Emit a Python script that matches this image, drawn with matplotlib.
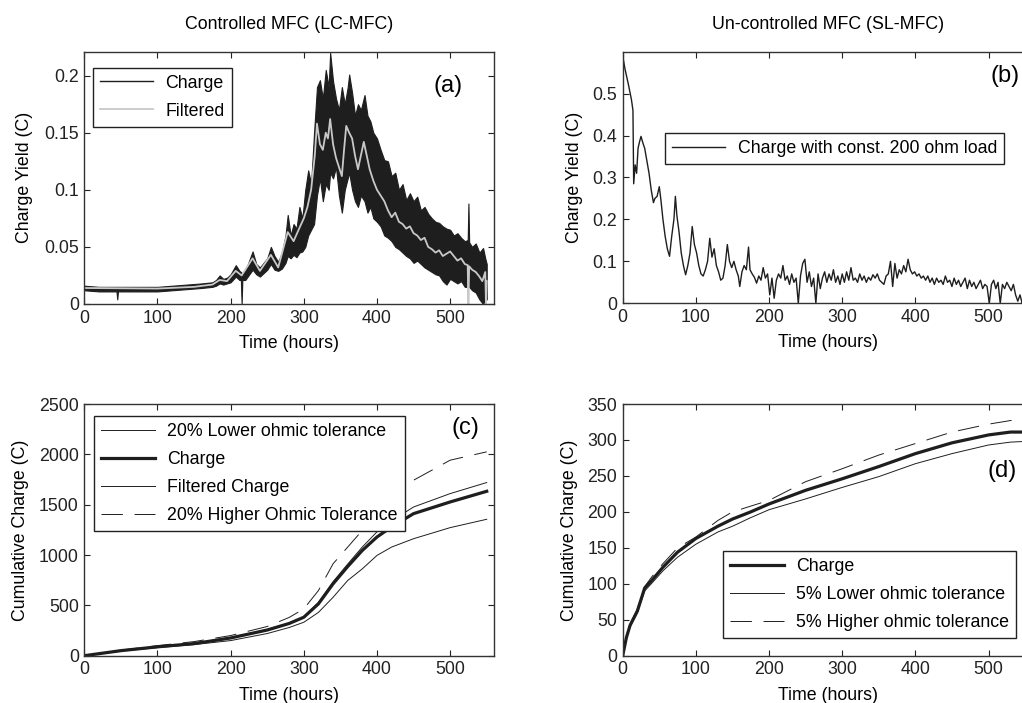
import matplotlib
matplotlib.use("Agg")
import matplotlib.pyplot as plt
from matplotlib.lines import Line2D
from matplotlib.ticker import FuncFormatter

plt.rcParams['font.family'] = ['Liberation Sans', 'DejaVu Sans']
plt.rcParams['font.size'] = 12.8

# (a) controlled MFC: raw charge band (upper / lower edge) and filtered trace
a_t = [0, 20, 44, 45, 46, 70, 100, 120, 140, 160, 175, 180, 185, 190, 195, 200,
       207, 212, 214, 215, 216, 220, 230, 235, 240, 245, 250, 255, 260, 265, 270,
       275, 278, 282, 286, 290, 294, 298, 302, 306, 310, 314, 318, 322, 326, 330,
       334, 336, 340, 344, 348, 352, 356, 360, 362, 366, 370, 374, 378, 383, 387,
       391, 395, 400, 405, 410, 415, 420, 425, 430, 435, 440, 445, 450, 455, 460,
       465, 470, 475, 480, 485, 490, 495, 500, 505, 510, 515, 520, 524, 525, 526,
       530, 535, 540, 545, 548, 550]
a_hi = [0.016, 0.015, 0.015, 0.015, 0.015, 0.015, 0.015, 0.016, 0.017, 0.018, 0.019,
        0.021, 0.025, 0.022, 0.023, 0.026, 0.034, 0.029, 0.028, 0.027, 0.027, 0.029,
        0.046, 0.035, 0.032, 0.036, 0.040, 0.050, 0.042, 0.037, 0.045, 0.060, 0.078,
        0.060, 0.070, 0.066, 0.085, 0.075, 0.100, 0.117, 0.105, 0.150, 0.190, 0.196,
        0.180, 0.205, 0.190, 0.220, 0.195, 0.180, 0.170, 0.190, 0.175, 0.190, 0.201,
        0.185, 0.165, 0.175, 0.170, 0.183, 0.165, 0.160, 0.150, 0.145, 0.135, 0.126,
        0.125, 0.112, 0.115, 0.100, 0.105, 0.091, 0.097, 0.090, 0.094, 0.082, 0.085,
        0.079, 0.075, 0.072, 0.071, 0.068, 0.066, 0.065, 0.060, 0.062, 0.058, 0.055,
        0.056, 0.088, 0.054, 0.050, 0.053, 0.045, 0.049, 0.040, 0.035]
a_lo = [0.012, 0.011, 0.011, 0.004, 0.011, 0.011, 0.011, 0.012, 0.013, 0.014, 0.015,
        0.016, 0.018, 0.017, 0.018, 0.019, 0.024, 0.021, 0.021, 0.000, 0.021, 0.021,
        0.030, 0.026, 0.024, 0.027, 0.030, 0.035, 0.030, 0.029, 0.031, 0.036, 0.042,
        0.040, 0.043, 0.041, 0.045, 0.046, 0.050, 0.060, 0.065, 0.070, 0.095, 0.110,
        0.090, 0.105, 0.100, 0.115, 0.110, 0.120, 0.095, 0.080, 0.100, 0.110, 0.115,
        0.100, 0.090, 0.085, 0.095, 0.090, 0.080, 0.085, 0.075, 0.072, 0.068, 0.060,
        0.058, 0.055, 0.050, 0.048, 0.045, 0.042, 0.040, 0.036, 0.038, 0.035, 0.032,
        0.030, 0.028, 0.026, 0.025, 0.020, 0.017, 0.022, 0.020, 0.018, 0.020, 0.015,
        0.015, 0.015, 0.015, 0.012, 0.010, 0.004, 0.000, 0.004, 0.004]
af_t = [0, 100, 150, 175, 185, 195, 207, 215, 230, 240, 255, 265, 278, 286, 295,
        300, 305, 310, 315, 318, 322, 326, 330, 333, 336, 340, 344, 348, 352, 355,
        358, 362, 366, 370, 374, 378, 382, 386, 390, 395, 400, 405, 410, 415, 420,
        425, 430, 435, 440, 445, 450, 455, 460, 465, 470, 475, 480, 485, 490, 495,
        500, 505, 510, 515, 520, 524, 525, 526, 530, 535, 540, 544, 548, 549, 550]
af_val = [0.014, 0.0135, 0.015, 0.017, 0.021, 0.020, 0.029, 0.025, 0.040, 0.029,
          0.043, 0.032, 0.063, 0.055, 0.068,
          0.075, 0.085, 0.100, 0.130, 0.158, 0.140, 0.135, 0.150, 0.145, 0.162,
          0.140, 0.128, 0.120, 0.112, 0.135, 0.156, 0.150, 0.145, 0.130, 0.118,
          0.130, 0.142, 0.130, 0.118, 0.108, 0.100, 0.095, 0.090, 0.082, 0.076,
          0.080, 0.072, 0.070, 0.066, 0.068, 0.062, 0.060, 0.056, 0.058, 0.050,
          0.048, 0.045, 0.047, 0.042, 0.044, 0.046, 0.042, 0.038, 0.040, 0.035,
          0.034, 0.000, 0.033, 0.030, 0.028, 0.024, 0.020, 0.028, 0.000, 0.020]

# (b) un-controlled MFC, constant 200 ohm load
b_t1 = [0, 3, 8, 12, 14, 15, 17, 19, 21, 23, 25, 28, 30, 33, 36, 39, 42, 44, 47, 50,
        52, 55, 58, 61, 64, 67, 70, 72, 74, 77, 80, 83, 86, 89, 92, 95, 98, 101, 104,
        107, 110, 113, 116, 119, 122, 125, 128, 131, 134, 137, 140, 143, 146, 149,
        152, 155, 158, 160, 163, 166, 169, 172, 174, 177]
b_v1 = [0.590, 0.560, 0.520, 0.485, 0.460, 0.285, 0.330, 0.310, 0.370, 0.385,
        0.398, 0.380, 0.370, 0.340, 0.310, 0.270, 0.240, 0.250, 0.255, 0.278,
        0.250, 0.200, 0.160, 0.130, 0.112, 0.160, 0.200, 0.255, 0.210, 0.170,
        0.120, 0.090, 0.068, 0.090, 0.120, 0.183, 0.140, 0.120, 0.090, 0.070,
        0.065, 0.080, 0.100, 0.155, 0.110, 0.130, 0.090, 0.075, 0.055, 0.060,
        0.090, 0.140, 0.100, 0.085, 0.100, 0.080, 0.065, 0.040, 0.075, 0.090,
        0.080, 0.134, 0.080, 0.070]
b_t2 = list(range(180, 550, 3))
b_v2 = [0.062, 0.048, 0.065, 0.055, 0.085, 0.060, 0.070, 0.020, 0.060, 0.012,
        0.055, 0.070, 0.060, 0.090, 0.055, 0.065, 0.045, 0.070, 0.050, 0.060,
        0.000, 0.065, 0.095, 0.105, 0.050, 0.075, 0.040, 0.060, 0.000, 0.070,
        0.035, 0.060, 0.075, 0.050, 0.070, 0.055, 0.080, 0.050, 0.065, 0.045,
        0.070, 0.050, 0.075, 0.055, 0.085, 0.055, 0.060, 0.050, 0.070, 0.055,
        0.065, 0.050, 0.062, 0.055, 0.068, 0.060, 0.070, 0.055, 0.050, 0.045,
        0.065, 0.070, 0.100, 0.040, 0.095, 0.060, 0.080, 0.070, 0.090, 0.075,
        0.105, 0.080, 0.070, 0.075, 0.065, 0.070, 0.060, 0.065, 0.055, 0.065,
        0.050, 0.060, 0.045, 0.060, 0.050, 0.055, 0.045, 0.065, 0.050, 0.055,
        0.040, 0.060, 0.045, 0.055, 0.040, 0.050, 0.060, 0.035, 0.055, 0.040,
        0.050, 0.035, 0.045, 0.055, 0.035, 0.045, 0.040, 0.000, 0.045, 0.055,
        0.035, 0.050, 0.000, 0.045, 0.035, 0.050, 0.040, 0.030, 0.045, 0.020,
        0.005, 0.020, 0.000, 0.010]

# (c) cumulative charge, controlled MFC
c_t = [0, 50, 100, 150, 200, 250, 280, 300, 320, 340, 360, 380, 400, 420, 450, 500, 550]
c_charge = [0, 50, 88, 120, 176, 255, 320, 382, 515, 714, 886, 1046, 1179, 1280, 1411, 1527, 1633]
c_filtered = [0, 52, 90, 123, 180, 260, 325, 385, 530, 735, 910, 1080, 1230, 1340, 1477, 1610, 1720]
c_lower = [0, 45, 80, 110, 150, 220, 280, 332, 430, 580, 747, 863, 996, 1079, 1162, 1272, 1355]
c_higher = [0, 55, 100, 140, 200, 290, 380, 465, 647, 913, 1079, 1245, 1400, 1550, 1743, 1942, 2025]

# (d) cumulative charge, un-controlled MFC
d_t = [0, 5, 10, 20, 30, 40, 55, 75, 100, 130, 150, 175, 200, 250, 300, 350, 400, 450, 500, 530, 550]
d_charge = [0, 25, 42, 62, 94, 105, 123, 144, 163, 180, 190, 200, 211, 230, 246, 263, 281, 296, 307, 311, 311]
d_lower = [0, 24, 40, 60, 90, 101, 118, 137, 155, 172, 180, 192, 203, 218, 234, 249, 267, 281, 293, 297, 298]
d_higher = [0, 26, 44, 65, 96, 110, 128, 150, 165, 188, 200, 208, 216, 242, 260, 279, 295, 311, 322, 327, 329]

dark = '#1e1e1e'
grey = '#c8c8c8'
dash = (0, (22, 12))

fig = plt.figure(figsize=(10.22, 7.03), dpi=100)
ax_a = fig.add_axes([0.0825, 0.5676, 0.4009, 0.3589])
ax_b = fig.add_axes([0.6093, 0.5686, 0.4009, 0.3579])
ax_c = fig.add_axes([0.0825, 0.0673, 0.4009, 0.3580])
ax_d = fig.add_axes([0.6093, 0.0673, 0.4009, 0.3580])

fmt = FuncFormatter(lambda v, p: '%g' % round(v, 4))

for ax in (ax_a, ax_b, ax_c, ax_d):
    ax.set_xlim(0, 560)
    ax.set_xticks([0, 100, 200, 300, 400, 500])
    ax.tick_params(direction='in', top=True, right=True, length=4, width=0.8,
                   labelsize=12.8, colors='#222222', pad=4)
    for s in ax.spines.values():
        s.set_color('#333333')
        s.set_linewidth(1.0)
    ax.yaxis.set_major_formatter(fmt)
    ax.set_xlabel('Time (hours)', labelpad=6)

leg_kw = dict(loc='upper left', frameon=True, fancybox=False, framealpha=1,
              edgecolor='#222222', handlelength=3.0, labelspacing=0.62,
              borderpad=0.4, borderaxespad=0, handletextpad=0.7, fontsize=12.8)

# (a)
ax_a.fill_between(a_t, a_lo, a_hi, color=dark, lw=0.8)
ax_a.plot(af_t, af_val, color=grey, lw=1.3)
ax_a.set_ylim(0, 0.221)
ax_a.set_yticks([0, 0.05, 0.1, 0.15, 0.2])
ax_a.set_ylabel('Charge Yield (C)', labelpad=8)
ax_a.set_title('Controlled MFC (LC-MFC)', fontsize=12.8, pad=16)
h_a = [Line2D([], [], color=dark, lw=1.0), Line2D([], [], color=grey, lw=1.3)]
lg = ax_a.legend(h_a, ['Charge', 'Filtered'], bbox_to_anchor=(0.02, 0.937), **leg_kw)
lg.get_frame().set_linewidth(1.0)
ax_a.text(0.888, 0.864, '(a)', transform=ax_a.transAxes, fontsize=17,
          ha='center', va='center')

# (b)
ax_b.plot(b_t1 + b_t2, b_v1 + b_v2, color=dark, lw=1.0)
ax_b.set_ylim(0, 0.6)
ax_b.set_yticks([0, 0.1, 0.2, 0.3, 0.4, 0.5])
ax_b.set_ylabel('Charge Yield (C)', labelpad=7)
ax_b.set_title('Un-controlled MFC (SL-MFC)', fontsize=12.8, pad=16)
lg = ax_b.legend([Line2D([], [], color=dark, lw=1.0)], ['Charge with const. 200 ohm load'],
                 bbox_to_anchor=(0.103, 0.676), **leg_kw)
lg.get_frame().set_linewidth(1.0)
ax_b.text(0.933, 0.904, '(b)', transform=ax_b.transAxes, fontsize=17,
          ha='center', va='center')

# (c)
ax_c.plot(c_t, c_lower, color=dark, lw=0.7, label='20% Lower ohmic tolerance')
ax_c.plot(c_t, c_charge, color=dark, lw=2.3, label='Charge')
ax_c.plot(c_t, c_filtered, color=dark, lw=0.7, label='Filtered Charge')
ax_c.plot(c_t, c_higher, color=dark, lw=0.7, ls=dash, label='20% Higher Ohmic Tolerance')
ax_c.set_ylim(0, 2500)
ax_c.set_yticks([0, 500, 1000, 1500, 2000, 2500])
ax_c.set_ylabel('Cumulative Charge (C)', labelpad=7)
lg = ax_c.legend(bbox_to_anchor=(0.024, 0.953), **leg_kw)
lg.get_frame().set_linewidth(1.0)
ax_c.text(0.929, 0.903, '(c)', transform=ax_c.transAxes, fontsize=17,
          ha='center', va='center')

# (d)
ax_d.plot(d_t, d_charge, color=dark, lw=2.3, label='Charge')
ax_d.plot(d_t, d_lower, color=dark, lw=0.7, label='5% Lower ohmic tolerance')
ax_d.plot(d_t, d_higher, color=dark, lw=0.7, ls=dash, label='5% Higher ohmic tolerance')
ax_d.set_ylim(0, 350)
ax_d.set_yticks([0, 50, 100, 150, 200, 250, 300, 350])
ax_d.set_ylabel('Cumulative Charge (C)', labelpad=7)
lg = ax_d.legend(bbox_to_anchor=(0.2455, 0.416), **leg_kw)
lg.get_frame().set_linewidth(1.0)
ax_d.text(0.925, 0.735, '(d)', transform=ax_d.transAxes, fontsize=17,
          ha='center', va='center')

fig.savefig('out.png', dpi=100)
